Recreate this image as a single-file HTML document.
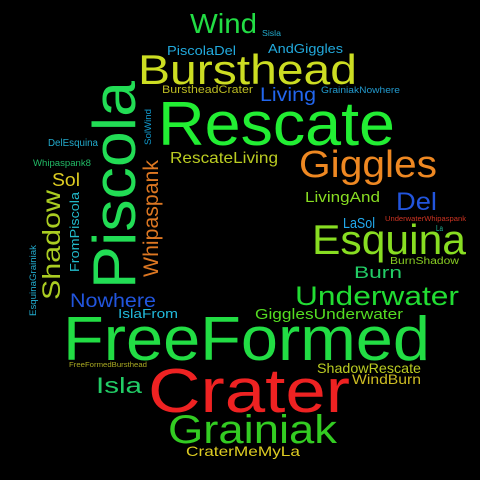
<!DOCTYPE html>
<html><head><meta charset="utf-8"><style>
html,body{margin:0;padding:0;background:#000;}
svg{display:block;}
text{font-family:"Liberation Sans",sans-serif;}
</style></head><body>
<svg id="cloud" width="480" height="480" viewBox="0 0 480 480">
<rect width="480" height="480" fill="#000"/>
</svg>
<script>
const words=["Wind","Sisla","PiscolaDel","AndGiggles","Bursthead","BurstheadCrater","Living","GrainiakNowhere","Rescate","SolWind","DelEsquina","Whipaspank8","RescateLiving","Giggles","Sol","LivingAnd","Del","Piscola","Shadow","FromPiscola","Whipaspank","EsquinaGrainiak","LaSol","UnderwaterWhipaspank","La","Esquina","BurnShadow","Burn","Underwater","Nowhere","IslaFrom","GigglesUnderwater","FreeFormed","FreeFormedBursthead","ShadowRescate","WindBurn","Isla","Crater","Grainiak","CraterMeMyLa"];
const sizes=[28,8,13,13,42,11,19,9,62,9,10,9,16,38,18,15,25,60,25,13,21,9,15,7,8,42,10,17,27,19,13,15,62,7,14,14,22,62,40,14];
const colors=["#22dd44","#22aacc","#22aadd","#22aadd","#ccdd22","#bbbb22","#2266ee","#2299cc","#22ee33","#1199cc","#22aacc","#22bb66","#bbcc22","#ee8822","#ddcc22","#88dd22","#2255dd","#22dd55","#aacc22","#22bbcc","#dd7722","#22aacc","#22aaee","#cc3322","#22bb99","#88dd22","#88cc22","#22cc66","#22dd33","#2255dd","#22bbdd","#55dd22","#22dd44","#aaaa22","#bbcc22","#ccbb22","#22cc66","#ee2222","#33cc22","#ddcc22"];
// x,y = start of baseline; len = text length; rot = rotation
const xs=[190,262,167,268,138,162,260,321,158,151,48,33,170,299,52,305,396,135,60,79,158,36,343,385,436,312,390,354,295,70,118,255,63,69,317,352,96,148,168,186];
const ys=[33,36,55,53,84,93,101,93,145,145,146,166,163,177,186,202,210,289,300,272,277,316,228,221,231,254,264,278,305,307,318,319,360,367,373,384,393,412,443,456];
const lens=[67,19,69,75,219,91,56,79,237,36,50,58,108,138,28,75,41,208,110,80,117,71,32,81,7,154,69,48,164,86,60,148,367,78,104,69,46,202,169,114];
const rots=[0,0,0,0,0,0,0,0,0,-90,0,0,0,0,0,0,0,-90,-90,-90,-90,-90,0,0,0,0,0,0,0,0,0,0,0,0,0,0,0,0,0,0];
const svg=document.getElementById('cloud');
const NS='http://www.w3.org/2000/svg';
for(let i=0;i<words.length;i++){
  const t=document.createElementNS(NS,'text');
  t.setAttribute('x',xs[i]);t.setAttribute('y',ys[i]);
  t.setAttribute('font-size',sizes[i]);
  t.setAttribute('fill',colors[i]);
  t.setAttribute('textLength',lens[i]);
  t.setAttribute('lengthAdjust','spacingAndGlyphs');
  if(rots[i])t.setAttribute('transform','rotate('+rots[i]+' '+xs[i]+' '+ys[i]+')');
  t.textContent=words[i];
  
  
  svg.appendChild(t);
}
</script>
</body></html>
